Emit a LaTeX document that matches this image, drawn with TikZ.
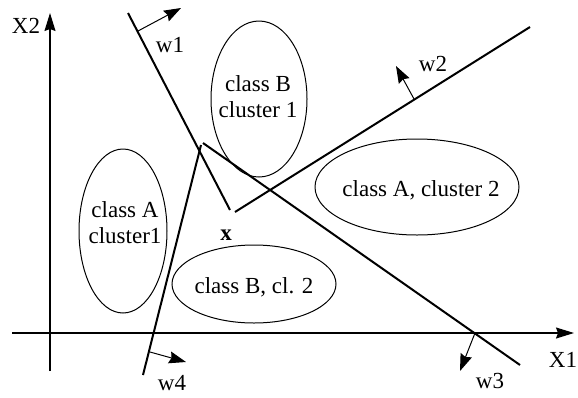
\documentclass[tikz,border=0pt]{standalone}
\usepackage{fontspec}
\setmainfont{Liberation Serif}
\usetikzlibrary{arrows.meta, shapes.geometric}

\begin{document}
\begin{tikzpicture}[x=0.5pt, y=-0.5pt,
        font=\fontsize{11.5}{13}\selectfont,
        clus/.style={draw, ellipse, inner sep=0pt, line width=0.5pt},
        txt/.style={align=center, inner sep=0pt},
        hyp/.style={line width=1pt},
        axis/.style={line width=0.6pt, -{Stealth[length=9pt, width=5.5pt, inset=1pt]}},
        nrm/.style={line width=0.5pt, -{Stealth[length=8.5pt, width=6pt, inset=1pt]}}]
    \useasboundingbox (0,0) rectangle (578,397);
    % axes
    \coordinate (o1) at (12,333);
    \coordinate (e1) at (574,333);
    \coordinate (o2) at (50,371);
    \coordinate (e2) at (50,13);
    \draw[axis] (o1) -- (e1);
    \draw[axis] (o2) -- (e2);
    \node (X1) at (563,360) {X1};
    \node (X2) at (26,26) {X2};
    % clusters
    \node[clus, minimum width=44pt, minimum height=82pt] (ca1) at (123,231) {};
    \node[clus, minimum width=48pt, minimum height=78pt] (cb1) at (259,99) {};
    \node[clus, minimum width=102pt, minimum height=48pt] (ca2) at (417,187) {};
    \node[clus, minimum width=82pt, minimum height=39pt] (cb2) at (254,284) {};
    \node[txt] (ta1) at (125,223) {class A\\cluster1};
    \node[txt] (tb1) at (258,97) {class B\\cluster 1};
    \node[txt] (ta2) at (421,190) {class A, cluster 2};
    \node[txt] (tb2) at (254,287) {class B, cl. 2};
    \node[txt] (x) at (226,235) {\bfseries x};
    % hyperplanes
    \coordinate (h1a) at (128,13);
    \coordinate (h1b) at (230,210);
    \coordinate (h2a) at (235,212);
    \coordinate (h2b) at (530,27);
    \coordinate (h3a) at (203,143);
    \coordinate (h3b) at (520,365);
    \coordinate (h4a) at (201,145);
    \coordinate (h4b) at (143,375);
    \draw[hyp] (h1a) -- (h1b);
    \draw[hyp] (h2a) -- (h2b);
    \draw[hyp] (h3a) -- (h3b);
    \draw[hyp] (h4a) -- (h4b);
    % normals
    \coordinate (n1a) at (138,31);
    \coordinate (n1b) at (181,8);
    \coordinate (n2a) at (414,99);
    \coordinate (n2b) at (396,66);
    \coordinate (n3a) at (475,333);
    \coordinate (n3b) at (460,371);
    \coordinate (n4a) at (150,352);
    \coordinate (n4b) at (186,362);
    \draw[nrm] (n1a) -- (n1b);
    \draw[nrm] (n2a) -- (n2b);
    \draw[nrm] (n3a) -- (n3b);
    \draw[nrm] (n4a) -- (n4b);
    \node (w1) at (170,45) {w1};
    \node (w2) at (433,64) {w2};
    \node (w3) at (490,381) {w3};
    \node (w4) at (172,383) {w4};
\end{tikzpicture}
\end{document}
